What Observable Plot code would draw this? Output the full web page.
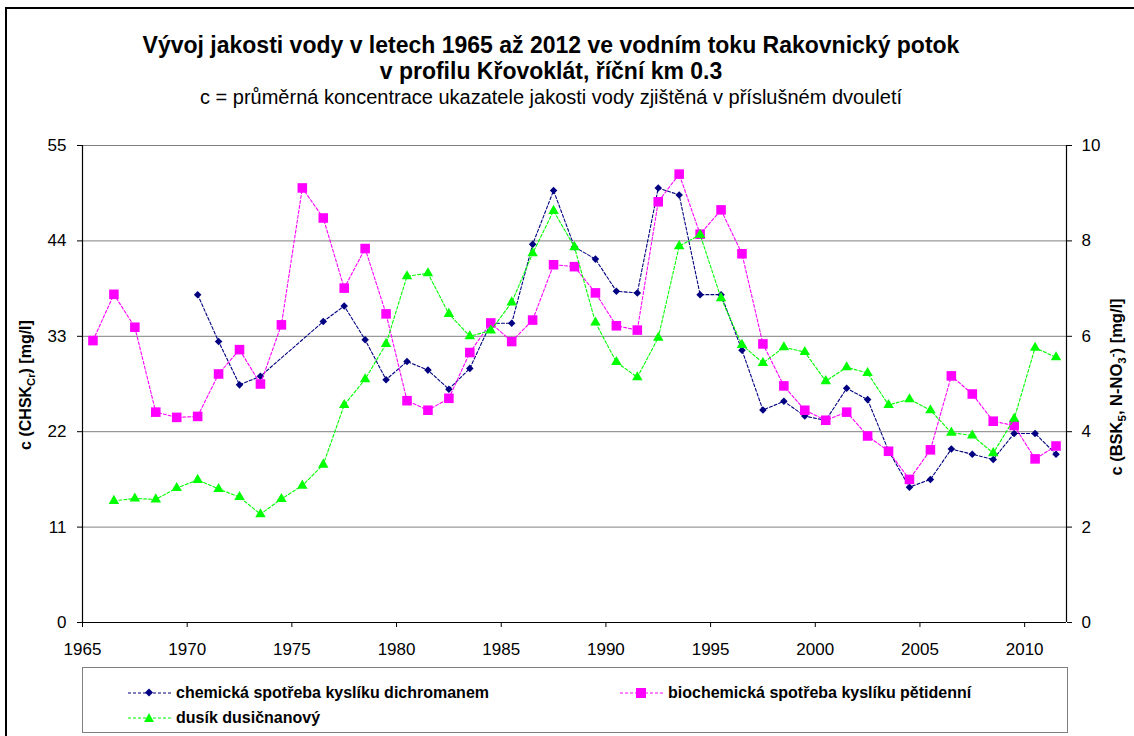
<!DOCTYPE html>
<html>
<head>
<meta charset="utf-8">
<script src="https://cdn.jsdelivr.net/npm/d3@7"></script>
<script src="https://cdn.jsdelivr.net/npm/@observablehq/plot@0.6"></script>
<style>
  html, body { margin: 0; padding: 0; background: #fff; }
  #wrap { position: relative; width: 1134px; height: 736px; overflow: hidden; font-family: "Liberation Sans", Arial, sans-serif; color: #000; }
  .abs { position: absolute; white-space: nowrap; }
  .center { transform: translate(-50%, -50%); }
  .rot { transform: translate(-50%, -50%) rotate(-90deg); }
  #frame { position: absolute; left: 5px; top: 7px; width: 1200px; height: 800px; border: 2px solid #000; box-sizing: border-box; }
  #plot { position: absolute; left: 0; top: 120px; }
  #legend { position: absolute; left: 82px; top: 667px; width: 986px; height: 66px; border: 1px solid #808080; box-sizing: border-box; background: #fff; }
  .lg { position: absolute; font-weight: bold; font-size: 16px; display: flex; align-items: center; }
  .lg svg { margin-right: 5px; }
  sub, sup { font-size: 70%; }
</style>
</head>
<body>
<div id="wrap">
  <div id="frame"></div>
  <div class="abs center" style="left:551px;top:45px;font-weight:bold;font-size:23px;">Vývoj jakosti vody v letech 1965 až 2012 ve vodním toku Rakovnický potok</div>
  <div class="abs center" style="left:551px;top:71px;font-weight:bold;font-size:23px;">v profilu Křovoklát, říční km 0.3</div>
  <div class="abs center" style="left:551px;top:97px;font-size:20px;">c = průměrná koncentrace ukazatele jakosti vody zjištěná v příslušném dvouletí</div>
  <div id="plot"></div>
  <div class="abs rot" style="left:27px;top:385px;font-weight:bold;font-size:16px;">c (CHSK<sub>Cr</sub>) [mg/l]</div>
  <div class="abs rot" style="left:1117px;top:387px;font-weight:bold;font-size:16.5px;">c (BSK<sub>5</sub>, N-NO<sub>3</sub><sup>-</sup>) [mg/l]</div>
  <div id="legend"></div>
</div>
<script>
// ---- data ----
const years = [1965,1966,1967,1968,1969,1970,1971,1972,1973,1974,1975,1976,1977,1978,1979,1980,1981,1982,1983,1984,1985,1986,1987,1988,1989,1990,1991,1992,1993,1994,1995,1996,1997,1998,1999,2000,2001,2002,2003,2004,2005,2006,2007,2008,2009,2010,2011];
// CHSK_Cr (left axis, mg/l)
const chsk = [null,null,null,null,null,37.8,32.4,27.4,28.4,null,null,34.7,36.5,32.6,28.0,30.1,29.1,26.9,29.3,34.5,34.5,43.6,49.8,43.3,41.9,38.2,38.0,50.1,49.3,37.8,37.8,31.4,24.5,25.5,23.8,23.3,27.0,25.7,19.8,15.6,16.5,20.0,19.4,18.8,21.8,21.8,19.4];
// BSK5 (right axis, mg/l)
const bsk = [5.91,6.88,6.19,4.41,4.30,4.32,5.21,5.72,5.00,6.24,9.11,8.48,7.01,7.84,6.47,4.65,4.45,4.70,5.66,6.28,5.89,6.34,7.50,7.46,6.91,6.22,6.13,8.82,9.40,8.14,8.65,7.73,5.84,4.96,4.45,4.24,4.41,3.91,3.59,3.00,3.62,5.17,4.79,4.22,4.13,3.43,3.70];
// N-NO3 (right axis, mg/l)
const no3 = [null,2.55,2.60,2.58,2.82,2.99,2.80,2.63,2.27,2.59,2.87,3.31,4.56,5.10,5.84,7.26,7.32,6.47,6.00,6.12,6.71,7.74,8.63,7.87,6.29,5.46,5.14,5.97,7.89,8.13,6.80,5.82,5.44,5.77,5.67,5.06,5.35,5.23,4.56,4.68,4.45,3.98,3.92,3.55,4.27,5.76,5.56];

const leftTicks = [0, 11, 22, 33, 44, 55];
const rightTicks = [0, 2, 4, 6, 8, 10];
const xTicks = [1965, 1970, 1975, 1980, 1985, 1990, 1995, 2000, 2005, 2010];
const seriesNames = ["chemická spotřeba kyslíku dichromanem", "biochemická spotřeba kyslíku pětidenní", "dusík dusičnanový"];
const colors = ["#000080", "#FF00FF", "#00FF00"];

// ---- build ----
const ratio = 55 / 10; // right-axis to left-axis scale factor
const mk = (arr, k) => years.map((yr, i) => ({year: yr, v: arr[i]})).filter(d => d.v != null).map(d => ({...d, y: d.v * k}));
const dChsk = mk(chsk, 1);
const dBsk = mk(bsk, ratio);
const dNo3 = mk(no3, ratio);
const xm = d => d.year + 0.5;
const dash = "3,2";

const chart = Plot.plot({
  width: 1134,
  height: 540,
  marginLeft: 82,
  marginRight: 68,
  marginTop: 25,
  marginBottom: 38,
  x: {domain: [1965, 2012]},
  y: {domain: [0, 55]},
  style: {fontFamily: "'Liberation Sans', Arial, sans-serif", fontSize: "17px", color: "#000", background: "transparent", overflow: "visible"},
  marks: [
    Plot.ruleY(leftTicks.filter(t => t > 0), {stroke: "#808080", strokeWidth: 1, strokeOpacity: 1}),
    Plot.axisY({ticks: leftTicks, tickSize: 5, tickPadding: 11, label: null, fontSize: 17, stroke: "#000"}),
    Plot.axisY({anchor: "right", ticks: rightTicks.map(t => t * ratio), tickFormat: d => String(Math.round(d / ratio)), tickSize: 5, tickPadding: 10, label: null, fontSize: 17}),
    Plot.axisX({ticks: xTicks, tickFormat: d => String(d), tickSize: 5, tickPadding: 15, label: null, fontSize: 17}),
    Plot.ruleX([1965, 2012], {stroke: "#000", strokeWidth: 1.2}),
    Plot.ruleY([0], {stroke: "#000", strokeWidth: 1.2}),
    Plot.line(dChsk, {x: xm, y: "y", stroke: colors[0], strokeWidth: 1.1, strokeDasharray: dash}),
    Plot.dot(dChsk, {x: xm, y: "y", symbol: "diamond2", r: 3.4, fill: colors[0], stroke: "none"}),
    Plot.line(dBsk, {x: xm, y: "y", stroke: colors[1], strokeWidth: 1.1, strokeDasharray: dash}),
    Plot.dot(dBsk, {x: xm, y: "y", symbol: "square", r: 5.4, fill: colors[1], stroke: "none"}),
    Plot.line(dNo3, {x: xm, y: "y", stroke: colors[2], strokeWidth: 1.1, strokeDasharray: dash}),
    Plot.dot(dNo3, {x: xm, y: "y", symbol: "triangle", r: 3.9, fill: colors[2], stroke: "none"})
  ]
});
document.getElementById("plot").appendChild(chart);

// ---- legend ----
const symbolPath = {
  0: '<path d="M21,0.5 L25,4.5 L21,8.5 L17,4.5 Z" fill="#000080"/>',
  1: '<rect x="16" y="0" width="10" height="10" fill="#FF00FF"/>',
  2: '<path d="M21,0 L26,9 L16,9 Z" fill="#00FF00"/>'
};
const legendPos = [
  {left: 45, top: 26},
  {left: 537, top: 26},
  {left: 45, top: 51}
];
const lg = document.getElementById("legend");
seriesNames.forEach((name, i) => {
  const el = document.createElement("div");
  el.className = "lg";
  el.style.left = legendPos[i].left + "px";
  el.style.top = (legendPos[i].top - 10) + "px";
  el.innerHTML = `<svg width="43" height="10" viewBox="0 0 43 10"><line x1="0" x2="43" y1="5" y2="5" stroke="${colors[i]}" stroke-width="1.2" stroke-dasharray="${dash}"/>${symbolPath[i]}</svg><span>${name}</span>`;
  lg.appendChild(el);
});
</script>
</body>
</html>
